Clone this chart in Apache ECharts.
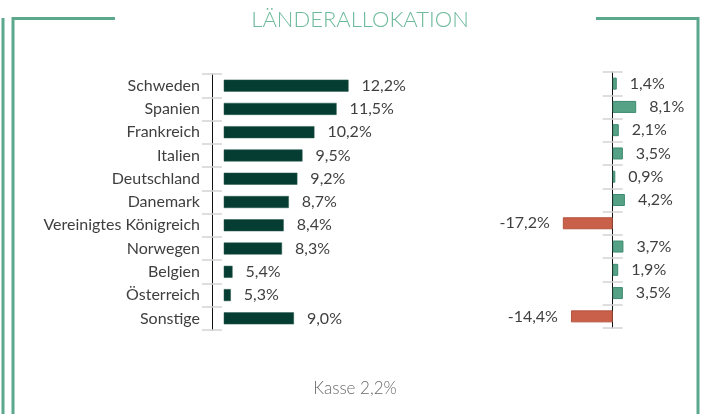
<!DOCTYPE html>
<html>
<head>
<meta charset="utf-8">
<script src="https://cdn.jsdelivr.net/npm/echarts@6/dist/echarts.min.js"></script>
<style>
  html, body { margin: 0; padding: 0; background: #fff; }
  #chart { width: 705px; height: 414px; }
</style>
</head>
<body>
<div id="chart"></div>
<script>
// Länder und Gewichte
const countries = ['Schweden', 'Spanien', 'Frankreich', 'Italien', 'Deutschland', 'Danemark',
  'Vereinigtes Königreich', 'Norwegen', 'Belgien', 'Österreich', 'Sonstige']
const weights = [12.2, 11.5, 10.2, 9.5, 9.2, 8.7, 8.4, 8.3, 5.4, 5.3, 9.0]
// Abweichung zur Benchmark
const diffs = [1.4, 8.1, 2.1, 3.5, 0.9, 4.2, -17.2, 3.7, 1.9, 3.5, -14.4]
const titleText = 'LÄNDERALLOKATION'
const cashText = 'Kasse 2,2%'

const frameColor = '#5ba88c'
const textColor = '#3f3f3f'
const tickColor = '#d4d4d4'

const fmt = v => v.toFixed(1).replace('.', ',') + '%'

const chart = echarts.init(document.getElementById('chart'))

// Kategorie-Achsen: einmal Ticks nach außen, einmal nach innen (Ticks kreuzen die Achse)
function catAxes(gridIndex, withLabels, offset) {
  return [
    {
      type: 'category', gridIndex, data: countries, inverse: true, offset,
      axisLine: { show: true, onZero: false, lineStyle: { color: '#111', width: 1 } },
      axisTick: { show: true, length: 10, lineStyle: { color: tickColor, width: 1.5 } },
      axisLabel: { show: withLabels, margin: 12, color: textColor, fontFamily: 'Lato', fontSize: 16 }
    },
    {
      type: 'category', gridIndex, data: countries, inverse: true, offset, position: 'left',
      axisLine: { show: false, onZero: false },
      axisTick: { show: true, inside: true, length: 10, lineStyle: { color: tickColor, width: 1.5 } },
      axisLabel: { show: false }
    }
  ]
}

// rechts: Achse liegt auf dem Nullpunkt (20 * 2.9px rechts vom Gridrand)
const yAxes = catAxes(0, true, 12).concat(catAxes(1, false, -58))

const diffData = diffs.map(v => ({
  value: v,
  label: { position: v < 0 ? 'left' : 'right' },
  itemStyle: v < 0
    ? { color: '#c9604a', borderColor: '#b5533f', borderWidth: 1 }
    : { color: '#56a287', borderColor: '#3c8a6f', borderWidth: 1 }
}))

const option = {
  animation: false,
  grid: [
    { left: 224, top: 74, width: 138.2, height: 256 },
    { left: 554.7, top: 72, width: 87, height: 256 }
  ],
  xAxis: [
    { type: 'value', gridIndex: 0, min: 4.9, max: 13, show: false },
    { type: 'value', gridIndex: 1, min: -20, max: 10, show: false }
  ],
  yAxis: yAxes,
  series: [
    {
      type: 'bar', xAxisIndex: 0, yAxisIndex: 0, data: weights, barWidth: 12,
      itemStyle: { color: '#053d32', borderColor: '#2a5a4e', borderWidth: 0.5 },
      label: {
        show: true, position: 'right', distance: 13, color: textColor,
        fontFamily: 'Lato', fontSize: 16, formatter: p => fmt(p.value)
      }
    },
    {
      type: 'bar', xAxisIndex: 1, yAxisIndex: 2, data: diffData, barWidth: 12,
      label: {
        show: true, distance: 13, color: textColor,
        fontFamily: 'Lato', fontSize: 16, formatter: p => fmt(p.value)
      }
    }
  ],
  graphic: [
    // Rahmen
    { type: 'line', shape: { x1: 3, y1: 18, x2: 3, y2: 414 }, style: { stroke: frameColor, lineWidth: 3 } },
    { type: 'polyline', shape: { points: [[115, 18.5], [13, 18.5], [13, 414]] }, style: { stroke: frameColor, lineWidth: 3, fill: null } },
    { type: 'polyline', shape: { points: [[596, 18.5], [698, 18.5], [698, 414]] }, style: { stroke: frameColor, lineWidth: 3, fill: null } },
    {
      type: 'text', x: 360, y: 20,
      style: {
        text: titleText, fill: '#6dba9c', font: '300 22px "Lato Light", Lato',
        textAlign: 'center', textVerticalAlign: 'middle'
      }
    },
    {
      type: 'text', x: 355, y: 389,
      style: {
        text: cashText, fill: '#6a6a6a', font: '300 17px "Lato Light", Lato',
        textAlign: 'center', textVerticalAlign: 'middle'
      }
    }
  ]
}

chart.setOption(option)
</script>
</body>
</html>
